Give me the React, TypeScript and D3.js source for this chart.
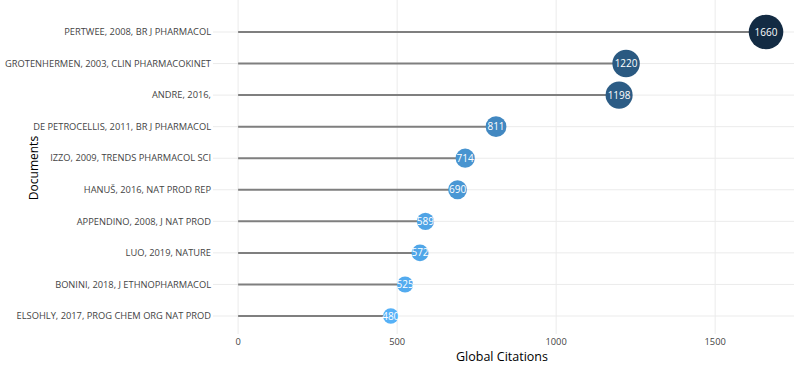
import React from "react";
import * as d3 from "d3";

const documents = [
  "PERTWEE, 2008, BR J PHARMACOL",
  "GROTENHERMEN, 2003, CLIN PHARMACOKINET",
  "ANDRE, 2016, ",
  "DE PETROCELLIS, 2011, BR J PHARMACOL",
  "IZZO, 2009, TRENDS PHARMACOL SCI",
  "HANUŠ, 2016, NAT PROD REP",
  "APPENDINO, 2008, J NAT PROD",
  "LUO, 2019, NATURE",
  "BONINI, 2018, J ETHNOPHARMACOL",
  "ELSOHLY, 2017, PROG CHEM ORG NAT PROD",
];
const citations = [1660, 1220, 1198, 811, 714, 690, 589, 572, 525, 480];
const xTicks = [0, 500, 1000, 1500];

const W = 794;
const H = 366;
const FONT = "'Open Sans', 'DejaVu Sans', sans-serif";

export default function App() {
  const x = d3.scaleLinear().domain([-79, 1748]).range([213, 794]);
  const y = d3.scalePoint<string>().domain(documents).range([32, 316]);
  const minV = d3.min(citations)!;
  const maxV = d3.max(citations)!;
  const r = d3.scaleLinear().domain([minV, maxV]).range([7.7, 17.3]);
  const color = d3
    .scaleLinear<string>()
    .domain([minV, maxV])
    .range(["#56B1F7", "#132B43"])
    .interpolate(d3.interpolateLab);
  const panelTop = 0;
  const panelBottom = 334;

  return (
    <svg
      width={W}
      height={H}
      style={{ position: "absolute", left: 0, top: 0, background: "#fff" }}
      fontFamily={FONT}
    >
      {documents.map((d) => (
        <line key={"h" + d} x1={213} x2={W} y1={y(d)} y2={y(d)} stroke="#ebebeb" strokeWidth={1} />
      ))}
      {xTicks.map((t) => (
        <line key={"v" + t} x1={x(t)} x2={x(t)} y1={panelTop} y2={panelBottom} stroke="#ebebeb" strokeWidth={1} />
      ))}
      {documents.map((d, i) => (
        <line
          key={"s" + d}
          x1={x(0)}
          x2={x(citations[i])}
          y1={y(d)}
          y2={y(d)}
          stroke="#7f7f7f"
          strokeWidth={2}
        />
      ))}
      {documents.map((d, i) => (
        <g key={"p" + d}>
          <circle cx={x(citations[i])} cy={y(d)} r={r(citations[i])} fill={color(citations[i])} />
          <text
            x={x(citations[i])}
            y={y(d)}
            dy="0.35em"
            textAnchor="middle"
            fontSize={10}
            fill="#ffffff"
          >
            {citations[i]}
          </text>
        </g>
      ))}
      {documents.map((d) => (
        <text key={"l" + d} x={211} y={y(d)} dy="0.35em" textAnchor="end" fontSize={9.3} fill="#444444">
          {d}
        </text>
      ))}
      {xTicks.map((t) => (
        <text key={"t" + t} x={x(t)} y={342} dy="0.35em" textAnchor="middle" fontSize={9.3} fill="#444444">
          {t}
        </text>
      ))}
      <text x={502} y={361} textAnchor="middle" fontSize={12.5} fill="#000">
        Global Citations
      </text>
      <text
        transform={`translate(34,168) rotate(-90)`}
        textAnchor="middle"
        dy="0.35em"
        fontSize={12}
        fill="#000"
      >
        Documents
      </text>
    </svg>
  );
}
